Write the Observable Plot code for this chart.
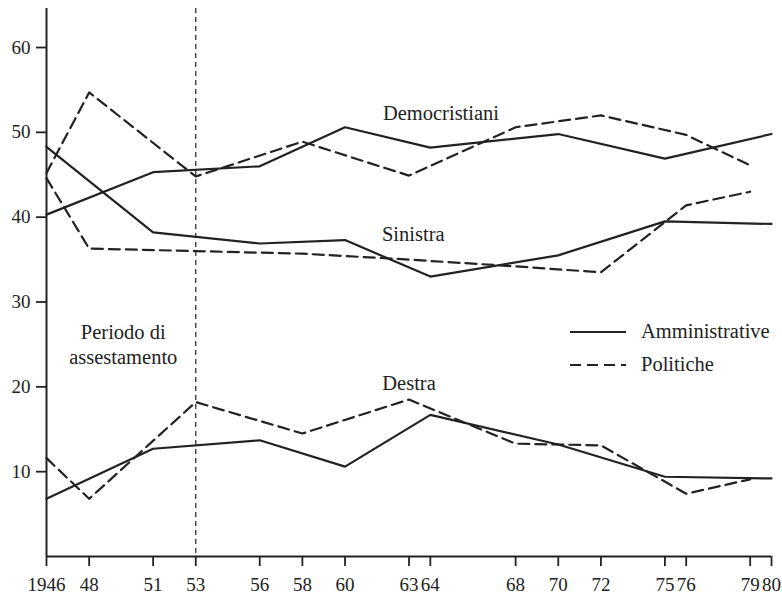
<!DOCTYPE html>
<html><head><meta charset="utf-8">
<script src="https://cdn.jsdelivr.net/npm/d3@7"></script>
<script src="https://cdn.jsdelivr.net/npm/@observablehq/plot@0.6"></script>
<style>
body{margin:0;background:#fff;}
#wrap{position:relative;width:782px;height:594px;font-family:"Liberation Serif",serif;color:#222;}
#legend{position:absolute;left:570px;top:315px;font-size:20.5px;}
.row{display:flex;align-items:center;height:33px;}
.row svg{width:56px;height:6px;margin-right:15px;}
</style></head><body><div id="wrap"><div id="legend"></div></div>
<script>
// Election years
const yearsAmm = [1946, 1951, 1956, 1960, 1964, 1970, 1975, 1980];
const yearsPol = [1946, 1948, 1953, 1958, 1963, 1968, 1972, 1976, 1979];
// Amministrative (solid)
const dcAmm  = [40.3, 45.3, 46.0, 50.6, 48.2, 49.8, 46.9, 49.8];
const sinAmm = [48.3, 38.2, 36.9, 37.3, 33.0, 35.5, 39.5, 39.2];
const dxAmm  = [6.8, 12.7, 13.7, 10.6, 16.7, 13.2, 9.4, 9.2];
// Politiche (dashed)
const dcPol  = [45.2, 54.7, 44.8, 48.9, 44.9, 50.6, 52.0, 49.7, 46.1];
const sinPol = [44.6, 36.3, 36.0, 35.7, 35.0, 34.2, 33.5, 41.4, 43.0];
const dxPol  = [11.6, 6.8, 18.2, 14.5, 18.5, 13.3, 13.1, 7.4, 9.1];
// Axis ticks
const xTicks = [1946, 1948, 1951, 1953, 1956, 1958, 1960, 1963, 1964, 1968, 1970, 1972, 1975, 1976, 1979, 1980];
const yTicks = [10, 20, 30, 40, 50, 60];
// Annotations
const labelText = ["Democristiani", "Sinistra", "Destra", "Periodo di\nassestamento"];
const labelX = [1964.5, 1963.2, 1963.0, 1949.6];
const labelY = [52.4, 38.1, 20.5, 25.1];
const legendNames = ["Amministrative", "Politiche"];
const legendDash = ["none", "11,6"];

function rows(years, series) {
  const out = [];
  for (const [party, vals] of series) years.forEach((y, i) => out.push({year: y, value: vals[i], party}));
  return out;
}
const amm = rows(yearsAmm, [["DC", dcAmm], ["Sinistra", sinAmm], ["Destra", dxAmm]]);
const pol = rows(yearsPol, [["DC", dcPol], ["Sinistra", sinPol], ["Destra", dxPol]]);
const labels = labelText.map((t, i) => ({text: t, x: labelX[i], y: labelY[i]}));

const ink = "#222";
const chart = Plot.plot({
  width: 782, height: 594,
  marginLeft: 46, marginRight: 11, marginTop: 8, marginBottom: 38,
  style: {fontFamily: "Liberation Serif, serif", fontSize: "19px", color: ink, background: "#fff"},
  x: {domain: [1946, 1980]},
  y: {domain: [0, 64.6]},
  marks: [
    Plot.axisX({ticks: xTicks, tickFormat: d => d === 1946 ? "1946" : String(d).slice(2), tickSize: 10, tickPadding: 11, label: null, fontSize: 19, strokeWidth: 1.8}),
    Plot.axisY({ticks: yTicks, tickSize: 10, tickPadding: 6, label: null, fontSize: 19, strokeWidth: 1.8}),
    Plot.ruleX([1946], {stroke: ink, strokeWidth: 2}),
    Plot.ruleY([0], {stroke: ink, strokeWidth: 2}),
    Plot.ruleX([1953], {stroke: ink, strokeWidth: 1.2, strokeDasharray: "5,4"}),
    Plot.line(amm, {x: "year", y: "value", z: "party", stroke: ink, strokeWidth: 2.2}),
    Plot.line(pol, {x: "year", y: "value", z: "party", stroke: ink, strokeWidth: 2.2, strokeDasharray: "11,6"}),
    Plot.text(labels, {x: "x", y: "y", text: "text", fontSize: 20.5, fill: ink, lineHeight: 1.2})
  ]
});
document.getElementById("wrap").prepend(chart);

const leg = d3.select("#legend");
legendNames.forEach((n, i) => {
  const r = leg.append("div").attr("class", "row");
  const s = r.append("svg");
  s.append("line").attr("x1", 0).attr("x2", 56).attr("y1", 3).attr("y2", 3)
    .attr("stroke", ink).attr("stroke-width", 2.2).attr("stroke-dasharray", legendDash[i]);
  r.append("span").text(n);
});
</script></body></html>
